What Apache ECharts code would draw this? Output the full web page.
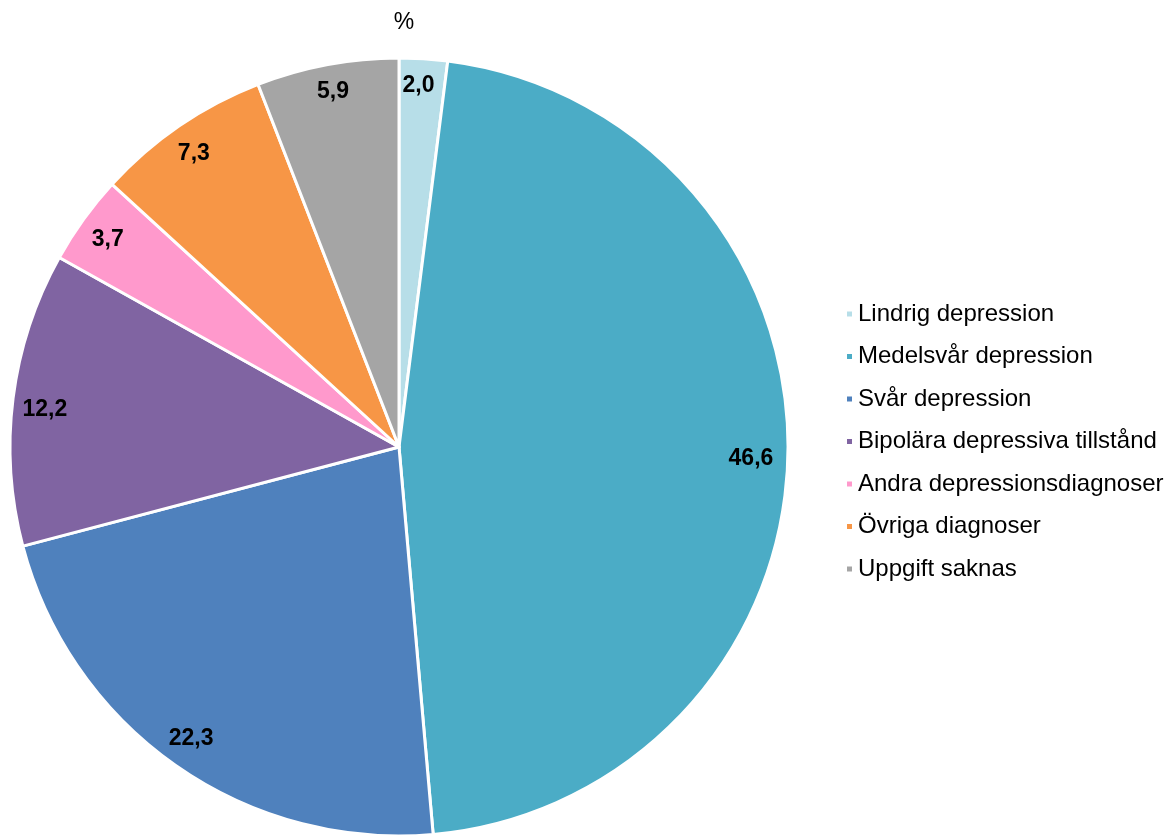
<!DOCTYPE html>
<html>
<head>
<meta charset="utf-8">
<script src="https://cdn.jsdelivr.net/npm/echarts@6/dist/echarts.min.js"></script>
<style>
  html, body { margin: 0; padding: 0; background: #fff; }
  #chart { width: 1174px; height: 836px; }
</style>
</head>
<body>
<div id="chart"></div>
<script>
// Diagnosfördelning, andel i procent
const categories = [
  'Lindrig depression',
  'Medelsvår depression',
  'Svår depression',
  'Bipolära depressiva tillstånd',
  'Andra depressionsdiagnoser',
  'Övriga diagnoser',
  'Uppgift saknas'
];
const values = [2.0, 46.6, 22.3, 12.2, 3.7, 7.3, 5.9];
const colors = ['#b7dee8', '#4bacc6', '#4f81bd', '#8064a2', '#ff99cc', '#f79646', '#a5a5a5'];

const fmt = v => v.toFixed(1).replace('.', ',');

const sliceData = categories.map((name, i) => ({
  name, value: values[i], itemStyle: { color: colors[i] }
}));

// small nudges so each value label sits snugly inside its slice
const labelNudge = [[-3, -4], [-6, 5], [-2, -1], [1, 8], [-1, 2], [-3, 2], [0, -3]];

const chart = echarts.init(document.getElementById('chart'), null, { renderer: 'canvas' });
const center = [399, 447];
const font = 'Arial, "Liberation Sans", sans-serif';

chart.setOption({
  animation: false,
  title: {
    text: '%',
    left: 399, top: 6,
    textAlign: 'center',
    textStyle: { fontFamily: font, fontSize: 23, fontWeight: 'normal', color: '#000' }
  },
  legend: {
    orient: 'vertical',
    left: 840, top: 296,
    icon: 'rect',
    itemWidth: 7, itemHeight: 7,
    itemGap: 16.5,
    data: categories,
    textStyle: { fontFamily: font, fontSize: 24, color: '#000', lineHeight: 26 }
  },
  series: [
    {
      type: 'pie',
      center: center,
      radius: [0, 389],
      startAngle: 90,
      clockwise: true,
      silent: true,
      label: { show: false },
      labelLine: { show: false },
      itemStyle: { borderColor: '#fff', borderWidth: 3 },
      data: sliceData
    },
    {
      // transparent ring carrying the value labels near the outer edge
      type: 'pie',
      center: center,
      radius: [322, 388],
      startAngle: 90,
      clockwise: true,
      silent: true,
      legendHoverLink: false,
      itemStyle: { color: 'rgba(0,0,0,0)' },
      label: {
        show: true,
        position: 'inside',
        formatter: p => fmt(p.value),
        fontFamily: font, fontSize: 23, fontWeight: 'bold', color: '#000'
      },
      labelLine: { show: false },
      data: categories.map((name, i) => ({
        name: name + ' ',
        value: values[i],
        label: { offset: labelNudge[i] }
      }))
    }
  ]
});
</script>
</body>
</html>
